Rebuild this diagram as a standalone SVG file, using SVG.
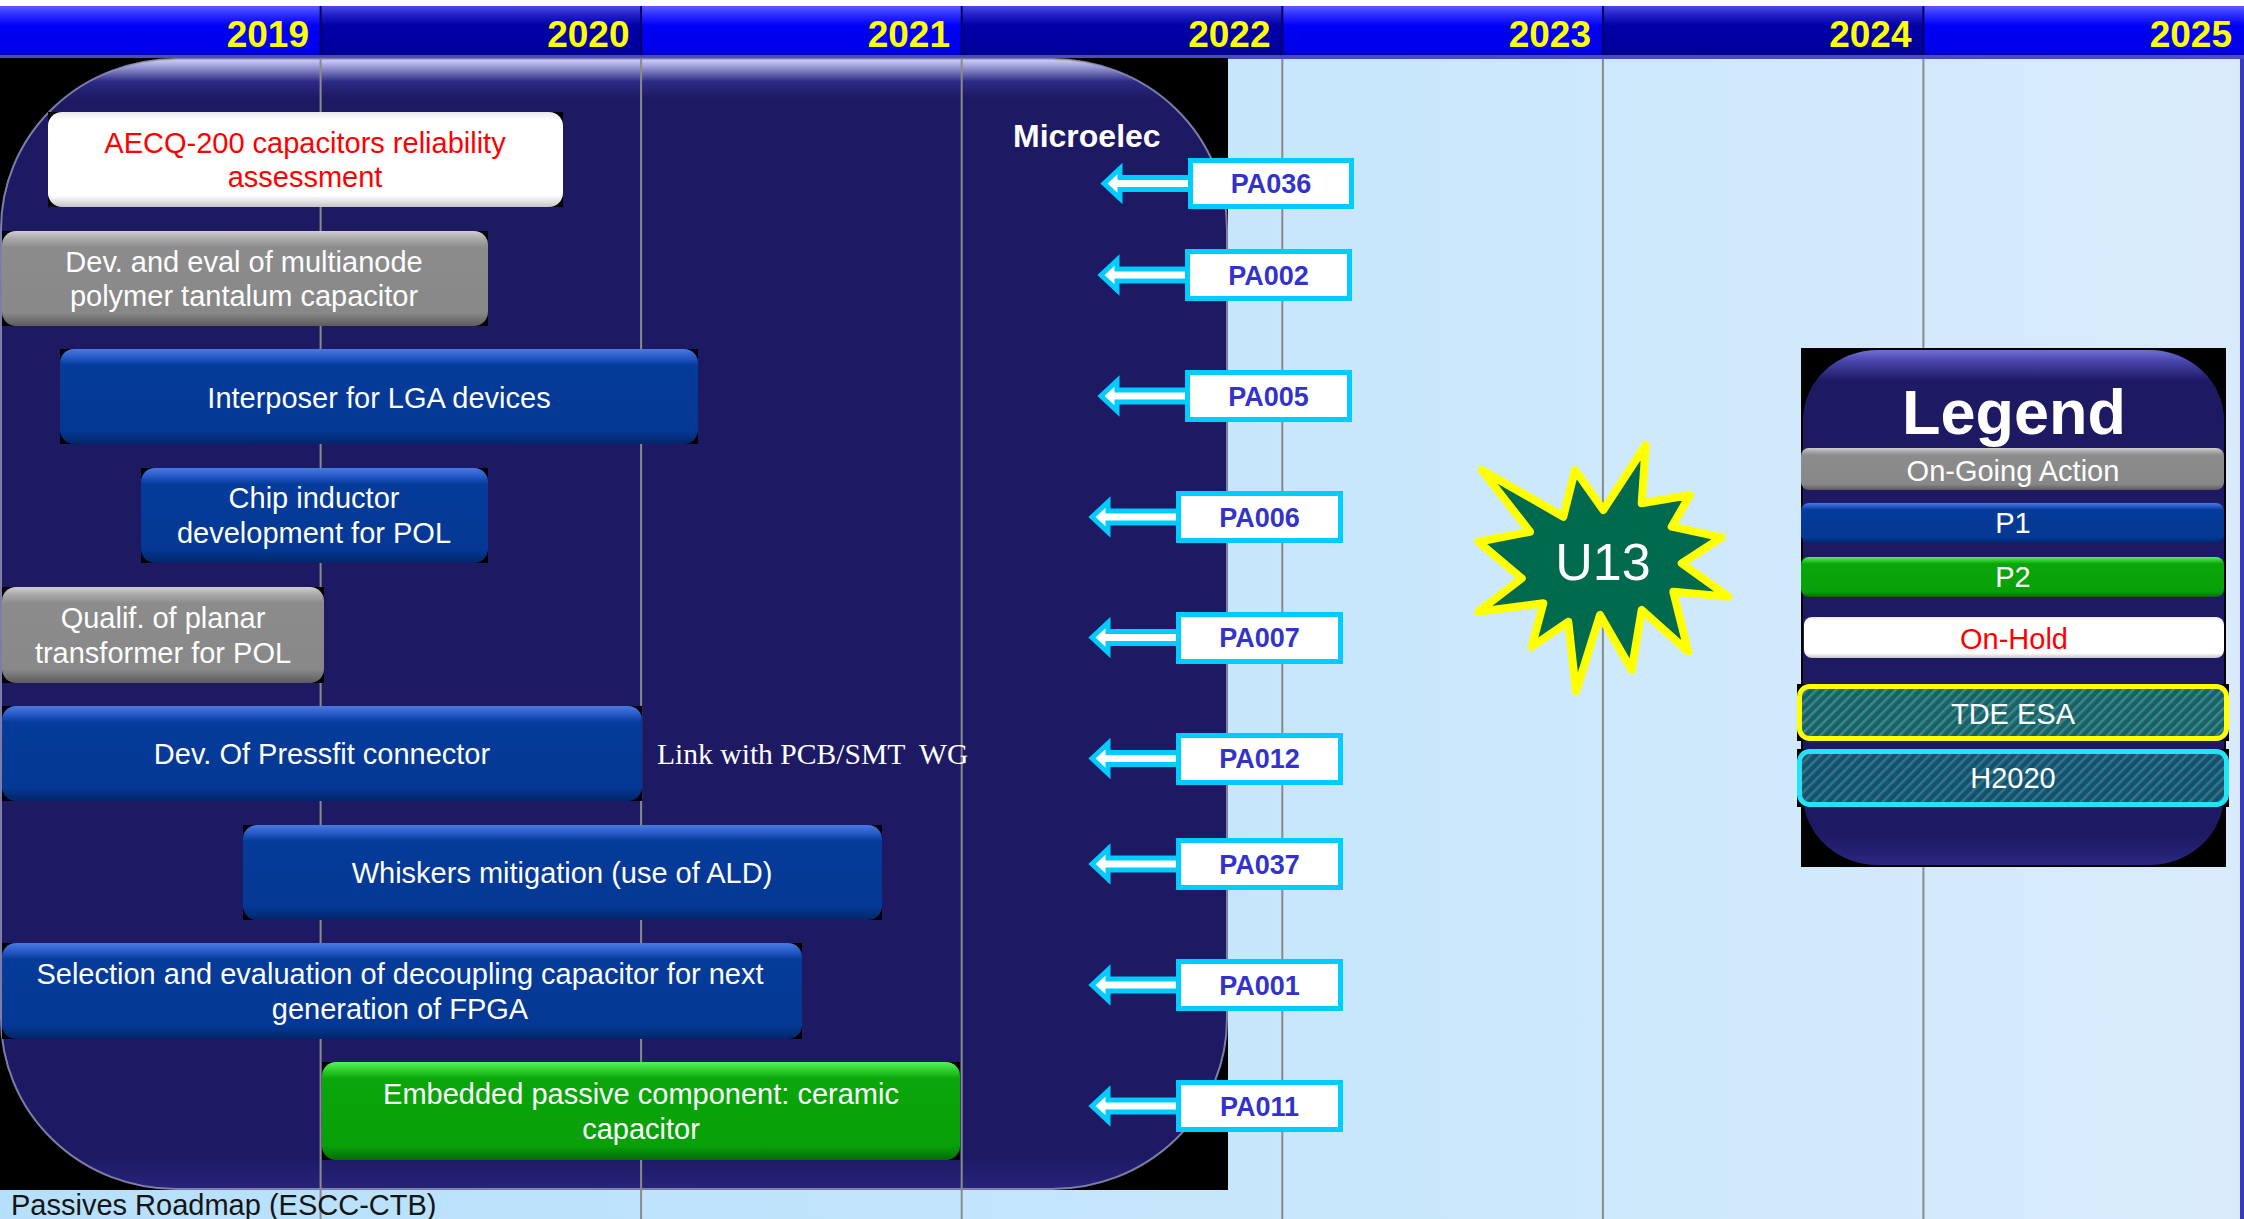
<svg xmlns="http://www.w3.org/2000/svg" width="2244" height="1219" viewBox="0 0 2244 1219">
  <defs>
    <style>
      .txt { font-family: "Liberation Sans", Arial, sans-serif; font-size: 29px; fill: #ffffff; text-anchor: middle; }
      .red { fill: #ff0000; }
      .year { font-family: "Liberation Sans", Arial, sans-serif; font-weight: bold; font-size: 37px; fill: #ffff00; text-anchor: end; }
      .grid { stroke: #8a8a8a; stroke-width: 2; }
      .shadow { fill: #000000; }
      .pa-box { fill: #ffffff; stroke: #00ccff; stroke-width: 5; }
      .pa-text { font-family: "Liberation Sans", Arial, sans-serif; font-weight: bold; font-size: 27px; fill: #3333cc; text-anchor: middle; }
      .arrow { fill: #ffffff; stroke: #00ccff; stroke-width: 5; stroke-linejoin: miter; }
    </style>
    <linearGradient id="sky" x1="0" y1="0" x2="1" y2="0">
      <stop offset="0" stop-color="#b5dffc"/>
      <stop offset="0.6" stop-color="#c8e7fc"/>
      <stop offset="1" stop-color="#d9ebfb"/>
    </linearGradient>
    <linearGradient id="hdrBright" x1="0" y1="0" x2="0" y2="1">
      <stop offset="0" stop-color="#5a5aff"/>
      <stop offset="0.22" stop-color="#2424ff"/>
      <stop offset="0.4" stop-color="#0000f6"/>
      <stop offset="0.92" stop-color="#0000ea"/>
      <stop offset="1" stop-color="#0000b0"/>
    </linearGradient>
    <linearGradient id="hdrDark" x1="0" y1="0" x2="0" y2="1">
      <stop offset="0" stop-color="#4848e8"/>
      <stop offset="0.22" stop-color="#1a1ac0"/>
      <stop offset="0.4" stop-color="#0000a6"/>
      <stop offset="0.92" stop-color="#00009e"/>
      <stop offset="1" stop-color="#000070"/>
    </linearGradient>
    <linearGradient id="panel" x1="0" y1="0" x2="0" y2="1">
      <stop offset="0" stop-color="#d4d4f2"/>
      <stop offset="0.007" stop-color="#9a9ad6"/>
      <stop offset="0.02" stop-color="#2c2a84"/>
      <stop offset="0.035" stop-color="#1d1963"/>
      <stop offset="0.97" stop-color="#1d1963"/>
      <stop offset="1" stop-color="#26247a"/>
    </linearGradient>
    <linearGradient id="legendPanel" x1="0" y1="0" x2="0" y2="1">
      <stop offset="0" stop-color="#7070d0"/>
      <stop offset="0.02" stop-color="#4a48b0"/>
      <stop offset="0.06" stop-color="#1d1963"/>
      <stop offset="0.94" stop-color="#1d1963"/>
      <stop offset="1" stop-color="#2a2880"/>
    </linearGradient>
    <linearGradient id="blueBar" x1="0" y1="0" x2="0" y2="1">
      <stop offset="0" stop-color="#4a7ae0"/>
      <stop offset="0.08" stop-color="#2a5ccc"/>
      <stop offset="0.17" stop-color="#053b9a"/>
      <stop offset="0.86" stop-color="#043894"/>
      <stop offset="1" stop-color="#022668"/>
    </linearGradient>
    <linearGradient id="grayBar" x1="0" y1="0" x2="0" y2="1">
      <stop offset="0" stop-color="#cfcfcf"/>
      <stop offset="0.08" stop-color="#aaaaaa"/>
      <stop offset="0.17" stop-color="#8c8c8c"/>
      <stop offset="0.86" stop-color="#888888"/>
      <stop offset="1" stop-color="#5c5c5c"/>
    </linearGradient>
    <linearGradient id="greenBar" x1="0" y1="0" x2="0" y2="1">
      <stop offset="0" stop-color="#5af05a"/>
      <stop offset="0.08" stop-color="#30d030"/>
      <stop offset="0.17" stop-color="#0aa60a"/>
      <stop offset="0.86" stop-color="#08a008"/>
      <stop offset="1" stop-color="#066a06"/>
    </linearGradient>
    <linearGradient id="whiteBar" x1="0" y1="0" x2="0" y2="1">
      <stop offset="0" stop-color="#e8e8e8"/>
      <stop offset="0.08" stop-color="#ffffff"/>
      <stop offset="0.88" stop-color="#ffffff"/>
      <stop offset="1" stop-color="#c4c4c4"/>
    </linearGradient>
    <pattern id="hatchTde" width="7" height="7" patternUnits="userSpaceOnUse" patternTransform="rotate(45)">
      <rect width="7" height="7" fill="#1c6066"/>
      <rect width="2.5" height="7" fill="#358a8c"/>
    </pattern>
    <pattern id="hatchH2020" width="7" height="7" patternUnits="userSpaceOnUse" patternTransform="rotate(45)">
      <rect width="7" height="7" fill="#16506a"/>
      <rect width="2.5" height="7" fill="#2c7890"/>
    </pattern>
  </defs>

  <!-- page background -->
  <rect x="0" y="0" width="2244" height="1219" fill="#ffffff"/>
  <rect x="0" y="56" width="2244" height="1163" fill="url(#sky)"/>
  <rect x="2240" y="56" width="4" height="1163" fill="#3838c0"/>

  <!-- year header -->
  <g id="header">
    <rect x="0" y="6" width="320.6" height="49" fill="url(#hdrBright)"/>
    <rect x="320.6" y="6" width="320.6" height="49" fill="url(#hdrDark)"/>
    <rect x="641.1" y="6" width="320.6" height="49" fill="url(#hdrBright)"/>
    <rect x="961.7" y="6" width="320.6" height="49" fill="url(#hdrDark)"/>
    <rect x="1282.3" y="6" width="320.6" height="49" fill="url(#hdrBright)"/>
    <rect x="1602.9" y="6" width="320.6" height="49" fill="url(#hdrDark)"/>
    <rect x="1923.4" y="6" width="320.6" height="49" fill="url(#hdrBright)"/>
    <g stroke="#000060" stroke-width="2">
      <line x1="320.6" y1="6" x2="320.6" y2="55"/>
      <line x1="641.1" y1="6" x2="641.1" y2="55"/>
      <line x1="961.7" y1="6" x2="961.7" y2="55"/>
      <line x1="1282.3" y1="6" x2="1282.3" y2="55"/>
      <line x1="1602.9" y1="6" x2="1602.9" y2="55"/>
      <line x1="1923.4" y1="6" x2="1923.4" y2="55"/>
    </g>
    <rect x="0" y="55" width="2244" height="4" fill="#4a4ac8"/>
    <text class="year" x="309" y="47">2019</text>
    <text class="year" x="629.5" y="47">2020</text>
    <text class="year" x="950" y="47">2021</text>
    <text class="year" x="1270.5" y="47">2022</text>
    <text class="year" x="1591" y="47">2023</text>
    <text class="year" x="1911.5" y="47">2024</text>
    <text class="year" x="2232" y="47">2025</text>
  </g>

  <!-- Microelec panel -->
  <g id="microelec-panel">
    <rect x="0" y="58" width="1228" height="1132" fill="#000000"/>
    <rect x="1" y="59" width="1226" height="1130" rx="175" ry="170" fill="url(#panel)" stroke="#9a9ac8" stroke-width="2" stroke-opacity="0.8"/>
    <text x="1013" y="147" font-family="Liberation Sans, Arial, sans-serif" font-weight="bold" font-size="32" fill="#ffffff">Microelec</text>
  </g>

  <!-- year grid -->
  <g id="grid">
    <line class="grid" x1="320.6" y1="59" x2="320.6" y2="1219"/>
    <line class="grid" x1="641.1" y1="59" x2="641.1" y2="1219"/>
    <line class="grid" x1="961.7" y1="59" x2="961.7" y2="1219"/>
    <line class="grid" x1="1282.3" y1="59" x2="1282.3" y2="1219"/>
    <line class="grid" x1="1602.9" y1="59" x2="1602.9" y2="1219"/>
    <line class="grid" x1="1923.4" y1="59" x2="1923.4" y2="1219"/>
  </g>

  <!-- activity bars -->
  <g id="aecq200">
    <rect class="shadow" x="48" y="112" width="515" height="95"/>
    <rect x="48" y="112" width="515" height="95" rx="14" fill="url(#whiteBar)"/>
    <text class="txt red" x="305" y="153">AECQ-200 capacitors reliability</text>
    <text class="txt red" x="305" y="187">assessment</text>
  </g>
  <g id="multianode">
    <rect class="shadow" x="2" y="231" width="486" height="95"/>
    <rect x="2" y="231" width="486" height="95" rx="14" fill="url(#grayBar)"/>
    <text class="txt" x="244" y="272">Dev. and eval of multianode</text>
    <text class="txt" x="244" y="306">polymer tantalum capacitor</text>
  </g>
  <g id="interposer">
    <rect class="shadow" x="60" y="349" width="638" height="95"/>
    <rect x="60" y="349" width="638" height="95" rx="14" fill="url(#blueBar)"/>
    <text class="txt" x="379" y="408">Interposer for LGA devices</text>
  </g>
  <g id="chip-inductor">
    <rect class="shadow" x="141" y="468" width="347" height="95"/>
    <rect x="141" y="468" width="347" height="95" rx="14" fill="url(#blueBar)"/>
    <text class="txt" x="314" y="508">Chip inductor</text>
    <text class="txt" x="314" y="543">development for POL</text>
  </g>
  <g id="planar-transformer">
    <rect class="shadow" x="2" y="587" width="322" height="96"/>
    <rect x="2" y="587" width="322" height="96" rx="14" fill="url(#grayBar)"/>
    <text class="txt" x="163" y="628">Qualif. of planar</text>
    <text class="txt" x="163" y="663">transformer for POL</text>
  </g>
  <g id="pressfit">
    <rect class="shadow" x="2" y="706" width="640" height="95"/>
    <rect x="2" y="706" width="640" height="95" rx="14" fill="url(#blueBar)"/>
    <text class="txt" x="322" y="764">Dev. Of Pressfit connector</text>
  </g>
  <text x="657" y="764" xml:space="preserve" font-family="Liberation Serif, Times New Roman, serif" font-size="29.6" fill="#ffffff">Link with PCB/SMT  WG</text>
  <g id="whiskers">
    <rect class="shadow" x="243" y="825" width="639" height="95"/>
    <rect x="243" y="825" width="639" height="95" rx="14" fill="url(#blueBar)"/>
    <text class="txt" x="562" y="883">Whiskers mitigation (use of ALD)</text>
  </g>
  <g id="decoupling">
    <rect class="shadow" x="2" y="943" width="800" height="96"/>
    <rect x="2" y="943" width="800" height="96" rx="14" fill="url(#blueBar)"/>
    <text class="txt" x="400" y="984">Selection and evaluation of decoupling capacitor for next</text>
    <text class="txt" x="400" y="1019">generation of FPGA</text>
  </g>
  <g id="embedded-passive">
    <rect class="shadow" x="322" y="1062" width="638" height="98"/>
    <rect x="322" y="1062" width="638" height="98" rx="14" fill="url(#greenBar)"/>
    <text class="txt" x="641" y="1104">Embedded passive component: ceramic</text>
    <text class="txt" x="641" y="1139">capacitor</text>
  </g>

  <!-- arrows from action codes to bars -->
  <g id="connectors">
    <polygon class="arrow" points="1195,177.5 1120,177.5 1120,168.5 1104,183.5 1120,198.5 1120,189.5 1195,189.5"/>
    <polygon class="arrow" points="1192,269 1117,269 1117,260 1101,275 1117,290 1117,281 1192,281"/>
    <polygon class="arrow" points="1192,390 1117,390 1117,381 1101,396 1117,411 1117,402 1192,402"/>
    <polygon class="arrow" points="1183,511 1108,511 1108,502 1092,517 1108,532 1108,523 1183,523"/>
    <polygon class="arrow" points="1183,631.5 1108,631.5 1108,622.5 1092,637.5 1108,652.5 1108,643.5 1183,643.5"/>
    <polygon class="arrow" points="1183,752.5 1108,752.5 1108,743.5 1092,758.5 1108,773.5 1108,764.5 1183,764.5"/>
    <polygon class="arrow" points="1183,858 1108,858 1108,849 1092,864 1108,879 1108,870 1183,870"/>
    <polygon class="arrow" points="1183,979 1108,979 1108,970 1092,985 1108,1000 1108,991 1183,991"/>
    <polygon class="arrow" points="1183,1100 1108,1100 1108,1091 1092,1106 1108,1121 1108,1112 1183,1112"/>
  </g>

  <!-- action codes -->
  <g id="pa036"><rect class="pa-box" x="1190.5" y="160.5" width="161" height="46"/><text class="pa-text" x="1271" y="193">PA036</text></g>
  <g id="pa002"><rect class="pa-box" x="1187.5" y="251.5" width="162" height="47"/><text class="pa-text" x="1268.5" y="285">PA002</text></g>
  <g id="pa005"><rect class="pa-box" x="1187.5" y="372.5" width="162" height="47"/><text class="pa-text" x="1268.5" y="406">PA005</text></g>
  <g id="pa006"><rect class="pa-box" x="1178.5" y="493.5" width="162" height="47"/><text class="pa-text" x="1259.5" y="527">PA006</text></g>
  <g id="pa007"><rect class="pa-box" x="1178.5" y="614.5" width="162" height="47"/><text class="pa-text" x="1259.5" y="647">PA007</text></g>
  <g id="pa012"><rect class="pa-box" x="1178.5" y="735.5" width="162" height="47"/><text class="pa-text" x="1259.5" y="768">PA012</text></g>
  <g id="pa037"><rect class="pa-box" x="1178.5" y="840.5" width="162" height="47"/><text class="pa-text" x="1259.5" y="874">PA037</text></g>
  <g id="pa001"><rect class="pa-box" x="1178.5" y="961.5" width="162" height="47"/><text class="pa-text" x="1259.5" y="995">PA001</text></g>
  <g id="pa011"><rect class="pa-box" x="1178.5" y="1082.5" width="162" height="47"/><text class="pa-text" x="1259.5" y="1116">PA011</text></g>

  <!-- U13 burst -->
  <g id="u13">
    <polygon points="1645.7,445 1641.7,503.3 1690,495 1671.7,526.7 1721.7,537.3 1681.7,563.3 1728.3,596.7 1673.3,591.7 1688.3,651.7 1641.7,610 1631.7,670 1600,615 1576,691.7 1568.3,621.7 1531.7,646.7 1543.3,603.3 1478.3,611.7 1521.7,578.3 1478.3,541.7 1530,531.7 1481.7,470 1563.3,516.7 1575,470 1603.3,510" fill="#006a4e" stroke="#ffff00" stroke-width="8" stroke-linejoin="round"/>
    <text x="1603" y="580" font-family="Liberation Sans, Arial, sans-serif" font-size="52" fill="#ffffff" text-anchor="middle">U13</text>
  </g>

  <!-- legend -->
  <g id="legend">
    <rect x="1801" y="348" width="425" height="519" fill="#000000"/>
    <rect x="1803" y="350" width="421" height="515" rx="75" ry="70" fill="url(#legendPanel)"/>
    <text x="2014" y="434" font-family="Liberation Sans, Arial, sans-serif" font-weight="bold" font-size="63" fill="#ffffff" text-anchor="middle">Legend</text>
    <g id="legend-ongoing">
      <rect x="1801" y="448" width="423" height="42" rx="8" fill="url(#grayBar)"/>
      <text class="txt" x="2013" y="481" fill="#f0f0f0">On-Going Action</text>
    </g>
    <g id="legend-p1">
      <rect x="1801" y="503" width="423" height="40" rx="8" fill="url(#blueBar)"/>
      <text class="txt" x="2013" y="533">P1</text>
    </g>
    <g id="legend-p2">
      <rect x="1801" y="557" width="423" height="40" rx="8" fill="url(#greenBar)"/>
      <text class="txt" x="2013" y="587">P2</text>
    </g>
    <g id="legend-onhold">
      <rect x="1804" y="617" width="420" height="41" rx="8" fill="url(#whiteBar)"/>
      <text class="txt red" x="2014" y="649">On-Hold</text>
    </g>
    <g id="legend-tde">
      <rect class="shadow" x="1797" y="684" width="432" height="57"/>
      <rect x="1799.5" y="686.5" width="427" height="52" rx="10" fill="url(#hatchTde)" stroke="#ffff00" stroke-width="5"/>
      <text class="txt" x="2013" y="724">TDE ESA</text>
    </g>
    <g id="legend-h2020">
      <rect class="shadow" x="1797" y="749" width="432" height="58"/>
      <rect x="1799.5" y="751.5" width="427" height="53" rx="10" fill="url(#hatchH2020)" stroke="#22e4f4" stroke-width="5"/>
      <text class="txt" x="2013" y="788">H2020</text>
    </g>
  </g>

  <text x="11" y="1215" font-family="Liberation Sans, Arial, sans-serif" font-size="29" fill="#151515">Passives Roadmap (ESCC-CTB)</text>
</svg>
